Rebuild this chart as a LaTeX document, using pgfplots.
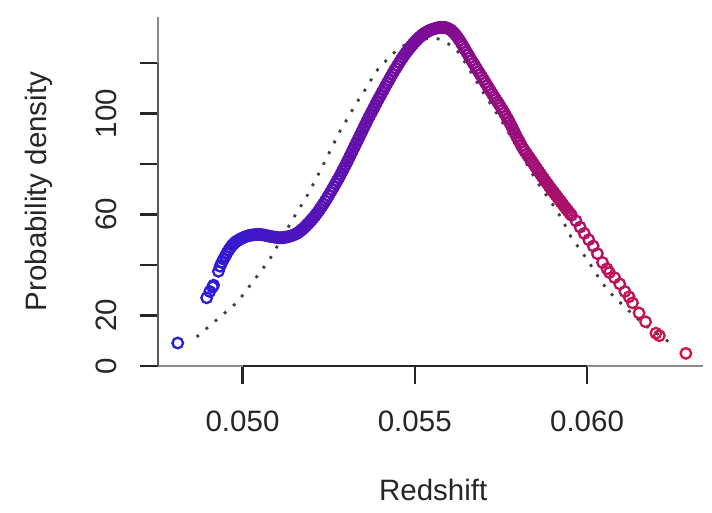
\documentclass[border=0pt]{standalone}
\usepackage{pgfplots}
\pgfplotsset{compat=1.18}
\usepackage{fontspec}
\setmainfont{Liberation Sans}
\begin{document}
\begin{tikzpicture}
\useasboundingbox (-79pt,-73.5pt) rectangle (277pt,183pt);
\begin{axis}[
  at={(0,0)}, anchor=south west,
  scale only axis,
  width=272.5pt, height=174.5pt,
  xmin=0.047547, xmax=0.063367,
  ymin=0, ymax=138.2,
  axis x line=bottom, axis y line=left,
  axis line style={draw=black!45, line width=1.1pt, -},
  tick align=outside,
  major tick length=9pt,
  tick style={draw=black!85, line width=1.1pt},
  scaled x ticks=false,
  xtick={0.050,0.055,0.060},
  xticklabels={0.050,0.055,0.060},
  ytick={0,20,40,60,80,100,120},
  yticklabels={0,20,,60,,100,},
  /pgf/number format/assume math mode=true,
  tick label style={font=\fontsize{14.75}{17}\selectfont, text=black!85},
  xticklabel style={anchor=base},
  yticklabel style={rotate=90, anchor=base},
  xticklabel shift=24pt,
  yticklabel shift=11.5pt,
  label style={font=\fontsize{14.75}{17}\selectfont, text=black!85},
  xlabel={Redshift},
  ylabel={Probability density},
  xlabel style={at={(axis description cs:0.505,-0.384)}, anchor=base},
  ylabel style={at={(axis description cs:-0.2037,0.5)}, anchor=base, rotate=0},
  colormap={bluered}{rgb255=(35,30,225) rgb255=(125,10,150) rgb255=(215,20,65)},
  point meta min=0.0481, point meta max=0.0629,
  clip=false,
]
\draw[black!85, line width=1.1pt] (axis cs:0.050,0) -- (axis cs:0.060,0);
\draw[black!65, line width=1.1pt] (axis cs:0.047547,0) -- (axis cs:0.047547,120);
\addplot[scatter, only marks, mark=o, mark size=2.65pt, line width=1.15pt,
  scatter/use mapped color={draw=mapped color, fill=none},
  point meta=x] table {
x y
0.04812 9.1
0.04896 27
0.04905 29.5
0.04913 31.3
0.04916 32
0.04930 37.5
0.04935 39.5
0.04940 41
0.04945 42.3
0.04950 43.5
0.04955 44.8
0.04960 45.9
0.04965 46.9
0.04970 47.8
0.04975 48.5
0.04980 49.1
0.04985 49.6
0.04990 50.0
0.04995 50.4
0.05000 50.7
0.05005 51
0.05010 51.3
0.05015 51.5
0.05020 51.7
0.05025 51.8
0.05030 51.9
0.05035 52
0.05040 52.1
0.05045 52.1
0.05050 52.1
0.05055 52
0.05060 51.9
0.05065 51.8
0.05070 51.6
0.05075 51.5
0.05080 51.3
0.05085 51.2
0.05090 51.1
0.05095 51
0.05100 50.9
0.05105 50.8
0.05110 50.8
0.05115 50.8
0.05120 50.9
0.05125 51
0.05130 51.1
0.05135 51.3
0.05140 51.5
0.05145 51.7
0.05150 52
0.05155 52.3
0.05160 52.7
0.05165 53.2
0.05170 53.7
0.05175 54.3
0.05180 54.9
0.05185 55.6
0.05190 56.3
0.05195 57
0.05200 57.8
0.05205 58.6
0.05210 59.4
0.05215 60.3
0.05220 61.2
0.05225 62.2
0.05230 63.2
0.05235 64.2
0.05240 65.3
0.05245 66.4
0.05250 67.5
0.05255 68.7
0.05260 69.8
0.05265 71
0.05270 72.2
0.05275 73.4
0.05280 74.6
0.05285 75.9
0.05290 77.2
0.05295 78.5
0.05300 79.8
0.05305 81.2
0.05310 82.6
0.05315 84
0.05320 85.4
0.05325 86.8
0.05330 88.2
0.05335 89.6
0.05340 91
0.05345 92.4
0.05350 93.8
0.05355 95.2
0.05360 96.6
0.05365 98
0.05370 99.3
0.05375 100.6
0.05380 101.9
0.05385 103.2
0.05390 104.5
0.05395 105.8
0.05400 107
0.05405 108.3
0.05410 109.5
0.05415 110.8
0.05420 112
0.05425 113.2
0.05430 114.4
0.05435 115.6
0.05440 116.8
0.05445 117.9
0.05450 119
0.05455 120.1
0.05460 121.2
0.05465 122.2
0.05470 123.2
0.05475 124.1
0.05480 125
0.05485 125.9
0.05490 126.7
0.05495 127.5
0.05500 128.3
0.05505 129
0.05510 129.7
0.05515 130.3
0.05520 130.9
0.05525 131.4
0.05530 131.9
0.05535 132.3
0.05540 132.7
0.05545 133
0.05550 133.3
0.05555 133.5
0.05560 133.7
0.05565 133.9
0.05570 134
0.05575 134.1
0.05580 134.1
0.05585 134.1
0.05590 134
0.05595 133.8
0.05600 133.4
0.05605 133
0.05610 132.4
0.05615 131.7
0.05620 130.9
0.05625 130
0.05630 129
0.05635 127.9
0.05640 126.8
0.05645 125.6
0.05650 124.4
0.05655 123.3
0.05660 122.1
0.05665 121
0.05670 119.9
0.05675 118.8
0.05680 117.7
0.05685 116.6
0.05690 115.5
0.05695 114.4
0.05700 113.3
0.05705 112.2
0.05710 111.1
0.05715 110
0.05720 108.9
0.05725 107.8
0.05730 106.7
0.05735 105.7
0.05740 104.6
0.05745 103.6
0.05750 102.5
0.05755 101.4
0.05760 100.2
0.05765 99
0.05770 97.8
0.05775 96.5
0.05780 95.2
0.05785 93.8
0.05790 92.4
0.05795 91
0.05800 89.7
0.05805 88.5
0.05810 87.2
0.05815 86
0.05820 85
0.05825 84
0.05830 83
0.05835 82
0.05840 81
0.05845 80
0.05850 79
0.05855 78
0.05860 77
0.05865 76
0.05870 75
0.05875 74.1
0.05880 73.1
0.05885 72.2
0.05890 71.2
0.05895 70.3
0.05900 69.4
0.05905 68.5
0.05910 67.6
0.05915 66.7
0.05920 65.8
0.05925 64.9
0.05930 64
0.05935 63.1
0.05940 62.2
0.05945 61.4
0.05950 60.5
0.05955 59.7
0.05968 57.5
0.05980 55
0.05992 52.5
0.06005 50
0.06018 47.5
0.06030 44.5
0.06045 41
0.06058 38.5
0.06065 37
0.06080 35
0.06095 32.5
0.06110 29.5
0.06122 27.4
0.06132 25
0.06151 21
0.06170 17.5
0.06200 13
0.06210 12
0.06287 5
};
\addplot[black!75, line width=1.4pt, dash pattern=on 1.4pt off 4.6pt] table {
x y
0.04867 11.5
0.04986 25.4
0.05078 42
0.05157 60.7
0.05186 67
0.05232 79
0.05281 92.5
0.0533 104
0.05359 110
0.05388 116.7
0.0542 121.4
0.05455 126
0.0550 129
0.0556 130
0.05594 128
0.05629 124
0.0570 108
0.0575 97.5
0.0580 86
0.0585 74
0.0590 64
0.05928 58
0.05954 51
0.05986 45
0.06014 39.3
0.06043 33
0.06078 27.4
0.0616 17
0.06238 9.5
};
\end{axis}
\end{tikzpicture}
\end{document}
